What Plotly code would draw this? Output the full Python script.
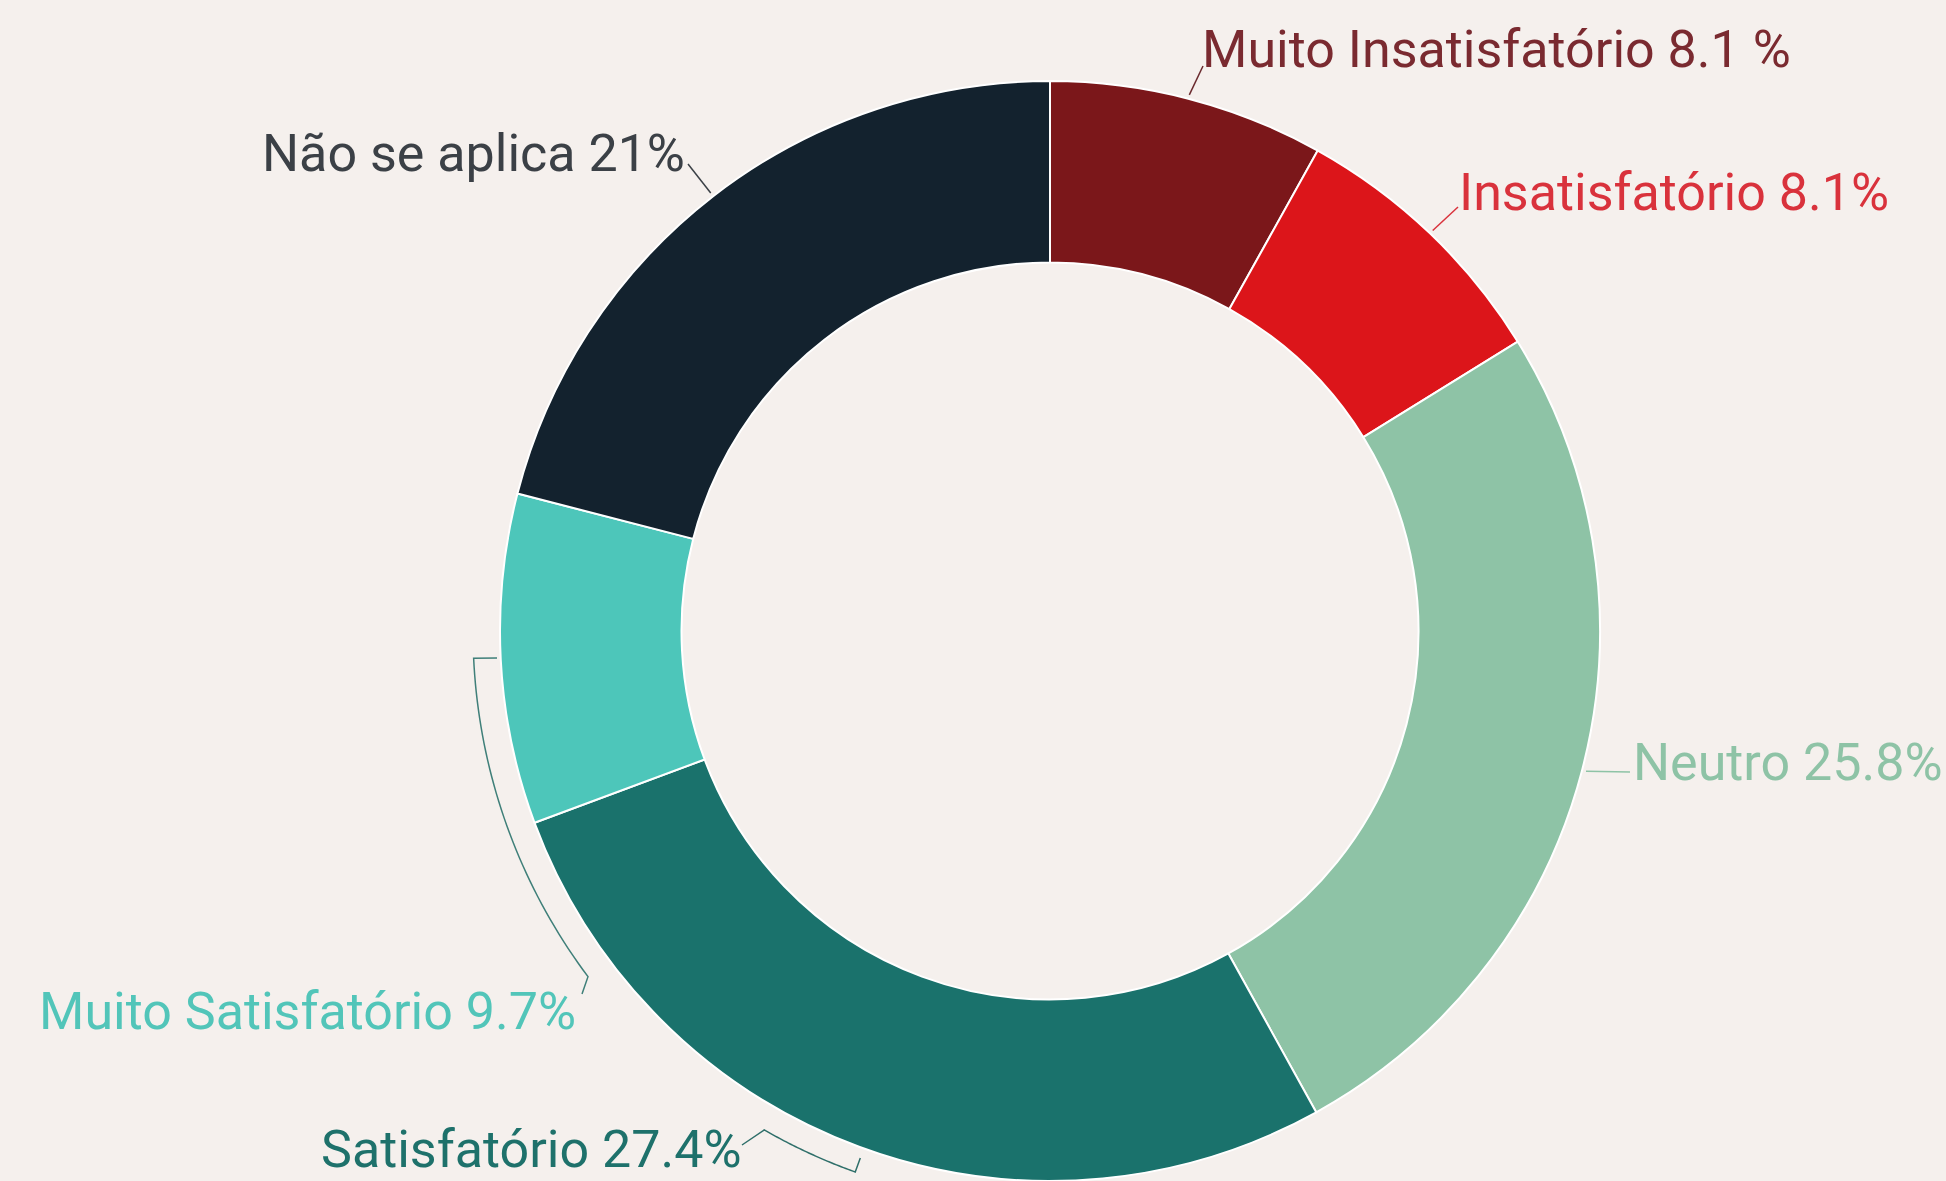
import math
import plotly.graph_objects as go

# ---- data ----
categories = ["Muito Insatisfatório", "Insatisfatório", "Neutro",
              "Satisfatório", "Muito Satisfatório", "Não se aplica"]
values = [8.1, 8.1, 25.8, 27.4, 9.7, 21.0]
label_texts = ["Muito Insatisfatório 8.1 %", "Insatisfatório 8.1%", "Neutro 25.8%",
               "Satisfatório 27.4%", "Muito Satisfatório 9.7%", "Não se aplica 21%"]

slice_colors = ["#7b171a", "#dc151a", "#8ec3a6", "#1a726c", "#4dc6ba", "#13222e"]
text_colors = ["#7a2a30", "#d9323c", "#8ec3a6", "#1e716b", "#52c5b9", "#3b4046"]
line_colors = ["#6a2a2e", "#d9323c", "#8ec3a6", "#2f6f6a", "#3f7f79", "#3b4046"]

W, H = 1946, 1181
BG = "#f5f0ed"

# pie geometry (pixels)
R_PX = 550
CX, CY = 1050, H - R_PX

def fx(x):
    return x / W

def fy(y):
    return 1 - y / H

total = sum(values)
cum = []
c = 0
for v in values:
    cum.append(c)
    c += v

def ang(frac_pct):
    return 2 * math.pi * frac_pct / total

def pt(theta, r):
    return CX + r * math.sin(theta), CY - r * math.cos(theta)

fig = go.Figure(go.Pie(
    labels=categories, values=values, sort=False, direction="clockwise",
    rotation=0, hole=0.67, textinfo="none", hoverinfo="label+percent",
    marker=dict(colors=slice_colors, line=dict(color="#ffffff", width=2)),
    domain=dict(x=[(CX - R_PX) / W, (CX + R_PX) / W], y=[0, 2 * R_PX / H]),
    showlegend=False,
))

# label anchors: (x, y, xanchor, yanchor, leader end point)
label_pos = {
    0: (1201, 50, "left", "middle", (1203, 66)),
    1: (1458, 192, "left", "middle", (1458, 207)),
    2: (1632, 762, "left", "middle", (1630, 772)),
    3: (320, H, "left", "bottom", None),
    4: (577, 1011, "right", "middle", None),
    5: (686, 153, "right", "middle", (688, 164)),
}

shapes = []
annotations = []
for i, txt in enumerate(label_texts):
    x, y, xa, ya, lend = label_pos[i]
    annotations.append(dict(
        x=fx(x), y=fy(y), xref="paper", yref="paper", text=txt,
        showarrow=False, xanchor=xa, yanchor=ya, borderpad=0,
        font=dict(family="Roboto", size=52, color=text_colors[i]),
    ))
    if lend is not None:
        mid = ang(cum[i] + values[i] / 2)
        sx, sy = pt(mid, R_PX + 4)
        shapes.append(dict(type="line", xref="paper", yref="paper",
                           x0=fx(sx), y0=fy(sy), x1=fx(lend[0]), y1=fy(lend[1]),
                           line=dict(color=line_colors[i], width=1.5)))

def arc_path(t0, t1, r, n=40):
    pts = []
    for k in range(n + 1):
        t = math.radians(t0 + (t1 - t0) * k / n)
        pts.append(pt(t, r))
    return pts

def to_path(points):
    return "M " + " L ".join(f"{fx(x):.5f},{fy(y):.5f}" for x, y in points)

# bracket for Muito Satisfatório
b4 = [(497, 658)] + arc_path(267.3, 233.2, 577) + [(582, 994)]
shapes.append(dict(type="path", xref="paper", yref="paper", path=to_path(b4),
                   line=dict(color=line_colors[4], width=1.5)))

# bracket for Satisfatório
b3 = [(742, 1145)] + arc_path(209.8, 199.8, 575) + [pt(math.radians(199.8), 560)]
shapes.append(dict(type="path", xref="paper", yref="paper", path=to_path(b3),
                   line=dict(color=line_colors[3], width=1.5)))

fig.update_layout(
    width=W, height=H, autosize=False,
    margin=dict(l=0, r=0, t=0, b=0),
    paper_bgcolor=BG, plot_bgcolor=BG,
    shapes=shapes, annotations=annotations,
    font=dict(family="Roboto"),
)

fig.write_html(
    "out.html",
    config={"displayModeBar": False},
    post_script="document.body.style.margin='0';document.body.style.padding='0';"
                "document.body.style.overflow='hidden';"
                "document.body.style.background='" + BG + "';",
)
